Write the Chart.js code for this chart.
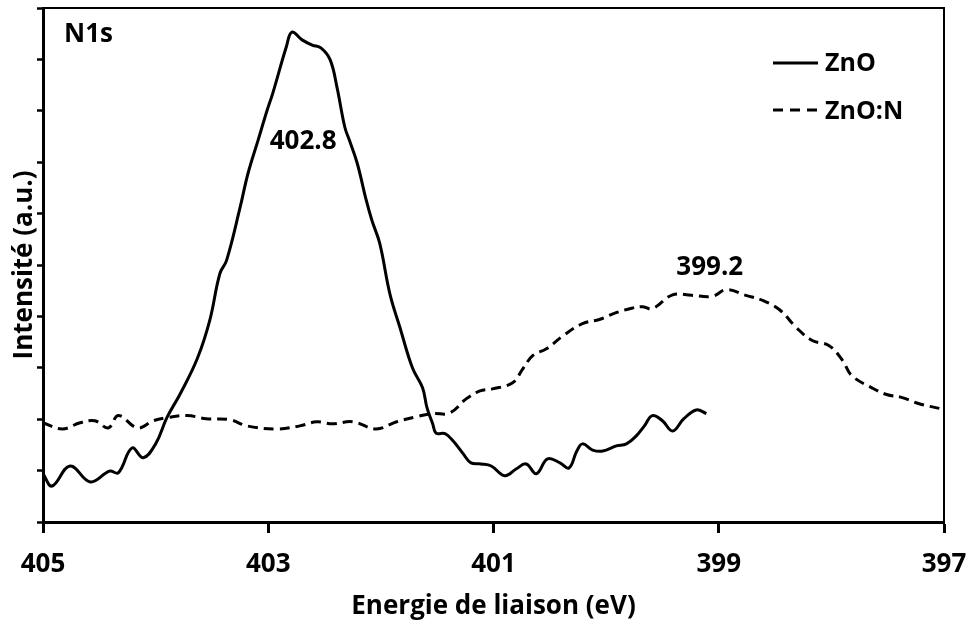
<!DOCTYPE html>
<html>
<head>
<meta charset="utf-8">
<script src="https://cdn.jsdelivr.net/npm/chart.js@4.4.1/dist/chart.umd.min.js"></script>
<style>
  html, body { margin: 0; padding: 0; background: #fff; }
</style>
</head>
<body>
<canvas id="xpsChart" width="971" height="628"></canvas>
<script>
// Energie de liaison (eV) / intensite
const energyTicks = [405, 403, 401, 399, 397];

const znoEnergy = [405.00, 404.92, 404.76, 404.58, 404.41, 404.33, 404.21, 404.11, 404.00, 403.90,
  403.78, 403.63, 403.52, 403.43, 403.37, 403.25, 403.18, 403.09, 403.01, 402.96,
  402.84, 402.79, 402.70, 402.61, 402.53, 402.45, 402.39, 402.32, 402.28, 402.21,
  402.13, 402.08, 402.01, 401.92, 401.83, 401.72, 401.63, 401.59, 401.54, 401.51,
  401.43, 401.36, 401.27, 401.20, 401.11, 401.02, 400.90, 400.80, 400.71, 400.62,
  400.52, 400.41, 400.33, 400.26, 400.21, 400.12, 400.03, 399.91, 399.82, 399.73,
  399.66, 399.59, 399.50, 399.41, 399.31, 399.20, 399.11];
const znoIntensity = [0.94, 0.70, 1.09, 0.78, 0.99, 0.96, 1.44, 1.25, 1.52, 2.03,
  2.50, 3.18, 3.92, 4.83, 5.09, 6.12, 6.78, 7.43, 8.01, 8.34,
  9.24, 9.53, 9.38, 9.28, 9.22, 8.99, 8.46, 7.68, 7.43, 6.98,
  6.26, 5.87, 5.42, 4.44, 3.78, 3.00, 2.61, 2.22, 1.91, 1.73,
  1.72, 1.58, 1.33, 1.15, 1.13, 1.09, 0.90, 1.03, 1.13, 0.94,
  1.23, 1.15, 1.05, 1.38, 1.52, 1.40, 1.38, 1.48, 1.52, 1.68,
  1.87, 2.07, 1.97, 1.77, 2.01, 2.18, 2.11];

const znonEnergy = [405.00, 404.83, 404.67, 404.54, 404.42, 404.33, 404.16, 404.02, 403.90, 403.72,
  403.55, 403.34, 403.19, 402.92, 402.72, 402.57, 402.43, 402.25, 402.04, 401.86,
  401.68, 401.54, 401.39, 401.24, 401.12, 401.01, 400.83, 400.74, 400.65, 400.53,
  400.39, 400.21, 400.06, 399.94, 399.79, 399.68, 399.59, 399.41, 399.24, 399.06,
  398.93, 398.76, 398.61, 398.46, 398.31, 398.17, 398.02, 397.90, 397.82, 397.64,
  397.51, 397.37, 397.22, 397.02, 397.00];
const znonIntensity = [1.93, 1.81, 1.93, 1.97, 1.83, 2.07, 1.83, 1.97, 2.03, 2.07,
  2.01, 1.99, 1.87, 1.81, 1.87, 1.95, 1.91, 1.95, 1.81, 1.95,
  2.05, 2.11, 2.12, 2.40, 2.55, 2.59, 2.71, 2.98, 3.24, 3.37,
  3.61, 3.86, 3.94, 4.05, 4.15, 4.19, 4.15, 4.42, 4.41, 4.39,
  4.52, 4.41, 4.31, 4.13, 3.78, 3.53, 3.43, 3.14, 2.85, 2.61,
  2.48, 2.42, 2.30, 2.20, 2.19];

const peakLabels = ['402.8', '399.2'];
const peakEnergy = [402.69, 399.08];
const peakIntensity = [7.40, 4.95];

const FONT = '"Open Sans", Lato, sans-serif';

function toPoints(xs, ys) {
  return xs.map((x, i) => ({ x: x, y: ys[i] }));
}

// cadre haut/droite, textes et legende dans la zone du graphique
const annotations = {
  id: 'annotations',
  afterDraw(chart) {
    const ctx = chart.ctx;
    const area = chart.chartArea;
    const xs = chart.scales.x;
    const ys = chart.scales.y;
    ctx.save();
    ctx.strokeStyle = '#000';
    ctx.lineWidth = 2;
    ctx.beginPath();
    ctx.moveTo(area.left, area.top);
    ctx.lineTo(area.right, area.top);
    ctx.lineTo(area.right, area.bottom);
    ctx.stroke();

    ctx.fillStyle = '#000';
    ctx.font = 'bold 26px ' + FONT;
    ctx.textBaseline = 'middle';
    ctx.textAlign = 'center';
    peakLabels.forEach((txt, i) => {
      ctx.fillText(txt, xs.getPixelForValue(peakEnergy[i]), ys.getPixelForValue(peakIntensity[i]));
    });

    ctx.textAlign = 'left';
    ctx.fillText('N1s', area.left + 21, area.top + 27);

    // legende
    const lx = area.left + 730;
    ctx.lineWidth = 3;
    ctx.beginPath();
    ctx.moveTo(lx, area.top + 55);
    ctx.lineTo(lx + 45, area.top + 55);
    ctx.stroke();
    ctx.setLineDash([10, 7]);
    ctx.beginPath();
    ctx.moveTo(lx, area.top + 102);
    ctx.lineTo(lx + 45, area.top + 102);
    ctx.stroke();
    ctx.setLineDash([]);
    ctx.font = 'bold 25px ' + FONT;
    ctx.fillText('ZnO', lx + 52, area.top + 56);
    ctx.fillText('ZnO:N', lx + 52, area.top + 104);
    ctx.restore();
  }
};

new Chart(document.getElementById('xpsChart'), {
  type: 'line',
  data: {
    datasets: [{
      label: 'ZnO',
      data: toPoints(znoEnergy, znoIntensity),
      borderColor: '#000',
      borderWidth: 3,
      pointRadius: 0,
      tension: 0.4,
      fill: false
    }, {
      label: 'ZnO:N',
      data: toPoints(znonEnergy, znonIntensity),
      borderColor: '#000',
      borderWidth: 3,
      borderDash: [10, 6],
      pointRadius: 0,
      tension: 0.4,
      fill: false
    }]
  },
  options: {
    responsive: false,
    animation: false,
    layout: { padding: { top: 8, right: 27, left: 0, bottom: 0 } },
    plugins: {
      legend: { display: false },
      tooltip: { enabled: false }
    },
    scales: {
      x: {
        type: 'linear',
        reverse: true,
        min: 397,
        max: 405,
        afterBuildTicks: (scale) => {
          scale.ticks = energyTicks.map(v => ({ value: v }));
        },
        afterFit: (scale) => {
          scale.height = 106;
          scale.paddingLeft = 0;
          scale.paddingRight = 0;
        },
        border: { display: true, color: '#000', width: 3 },
        grid: { drawOnChartArea: false, drawTicks: true, tickLength: 11, tickWidth: 3, tickColor: '#000' },
        ticks: {
          color: '#000',
          padding: 16,
          maxRotation: 0,
          font: { family: FONT, size: 26, weight: 'bold' }
        },
        title: {
          display: true,
          text: 'Energie de liaison (eV)',
          color: '#000',
          padding: { top: 0, bottom: 6 },
          font: { family: FONT, size: 26, weight: 'bold' }
        }
      },
      y: {
        min: 0,
        max: 10,
        afterFit: (scale) => { scale.width = 43; },
        border: { display: true, color: '#000', width: 3 },
        grid: { drawOnChartArea: false, drawTicks: true, tickLength: 6, tickWidth: 2.5, tickColor: '#000' },
        ticks: { display: false, stepSize: 1 },
        title: {
          display: true,
          text: 'Intensité (a.u.)',
          color: '#000',
          padding: { top: 9, bottom: 0 },
          font: { family: FONT, size: 26, weight: 'bold' }
        }
      }
    }
  },
  plugins: [annotations]
});
</script>
</body>
</html>
